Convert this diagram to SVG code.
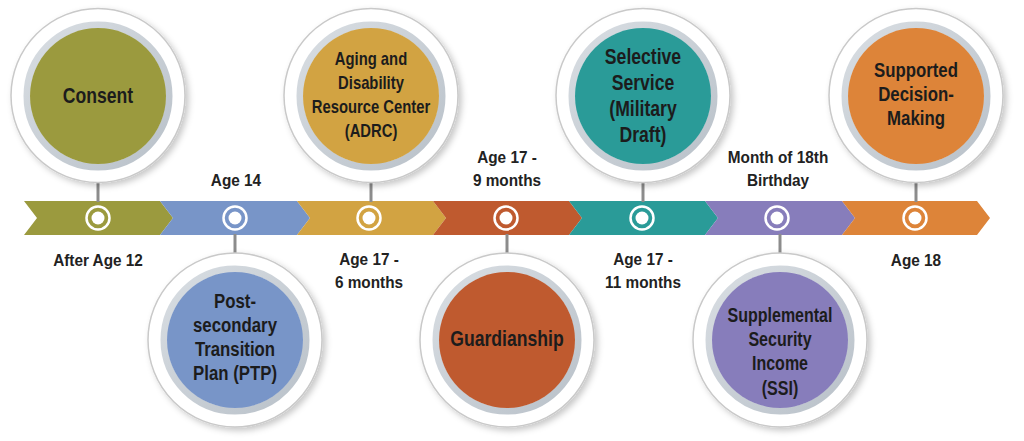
<svg xmlns="http://www.w3.org/2000/svg" width="1024" height="441" viewBox="0 0 1024 441">
<defs>
<filter id="sh" x="-20%" y="-20%" width="150%" height="150%">
<feDropShadow dx="3" dy="3" stdDeviation="3" flood-color="#000" flood-opacity="0.22"/>
</filter>
<linearGradient id="ringg" x1="0" y1="0" x2="1" y2="1">
<stop offset="0" stop-color="#d9dee3"/>
<stop offset="1" stop-color="#b9c1c9"/>
</linearGradient>
<style>
.outer{fill:#fff;stroke:#c9c9c9;stroke-width:1.5}
.ring{fill:none;stroke:url(#ringg);stroke-width:7}
.t{font-family:"Liberation Sans",Arial,sans-serif;font-weight:bold;fill:#1c1c1c;text-anchor:middle}
.lbl{font-family:"Liberation Sans",Arial,sans-serif;font-weight:bold;font-size:16.5px;fill:#222;text-anchor:middle}
.conn{stroke:#8c8c8c;stroke-width:3}
.mk{fill:none;stroke:#fff;stroke-width:2.5}
.dot{fill:#fff}
</style>
</defs>
<rect width="1024" height="441" fill="#fff"/>

<g id="band">
<polygon points="24,201 160,201 173,218 160,235 24,235 37,218" fill="#9b9a3e"/>
<polygon points="160,201 297,201 310,218 297,235 160,235 173,218" fill="#7895c8"/>
<polygon points="297,201 433,201 446,218 433,235 297,235 310,218" fill="#d2a342"/>
<polygon points="433,201 569,201 582,218 569,235 433,235 446,218" fill="#bf5a2f"/>
<polygon points="569,201 705,201 718,218 705,235 569,235 582,218" fill="#2a9b98"/>
<polygon points="705,201 842,201 855,218 842,235 705,235 718,218" fill="#877dbb"/>
<polygon points="842,201 977,201 990,218 977,235 842,235 855,218" fill="#dd8439"/>
</g>

<g id="connectors">
<line class="conn" x1="98" y1="182" x2="98" y2="202"/>
<line class="conn" x1="235" y1="234" x2="235" y2="254"/>
<line class="conn" x1="371" y1="182" x2="371" y2="202"/>
<line class="conn" x1="507" y1="234" x2="507" y2="254"/>
<line class="conn" x1="643" y1="182" x2="643" y2="202"/>
<line class="conn" x1="780" y1="234" x2="780" y2="254"/>
<line class="conn" x1="916" y1="182" x2="916" y2="202"/>
</g>

<g id="markers">
<circle class="mk" cx="98" cy="218" r="11.5"/><circle class="dot" cx="98" cy="218" r="6.5"/>
<circle class="mk" cx="235" cy="218" r="11.5"/><circle class="dot" cx="235" cy="218" r="6.5"/>
<circle class="mk" cx="369" cy="218" r="11.5"/><circle class="dot" cx="369" cy="218" r="6.5"/>
<circle class="mk" cx="506" cy="218" r="11.5"/><circle class="dot" cx="506" cy="218" r="6.5"/>
<circle class="mk" cx="642" cy="218" r="11.5"/><circle class="dot" cx="642" cy="218" r="6.5"/>
<circle class="mk" cx="777" cy="218" r="11.5"/><circle class="dot" cx="777" cy="218" r="6.5"/>
<circle class="mk" cx="915" cy="218" r="11.5"/><circle class="dot" cx="915" cy="218" r="6.5"/>
</g>

<g id="node-consent">
<circle class="outer" cx="98" cy="95.5" r="87" filter="url(#sh)"/>
<circle class="ring" cx="98" cy="96" r="71"/>
<circle cx="98" cy="96" r="68" fill="#9b9a3e"/>
<text class="t" font-size="22" transform="translate(98 0) scale(0.8 1)"><tspan x="0" y="103.5">Consent</tspan></text>
</g>

<g id="node-ptp">
<circle class="outer" cx="235" cy="340" r="87" filter="url(#sh)"/>
<circle class="ring" cx="235" cy="340" r="71"/>
<circle cx="235" cy="340" r="68" fill="#7895c8"/>
<text class="t" font-size="21" transform="translate(235 0) scale(0.8 1)"><tspan x="0" y="308">Post-</tspan><tspan x="0" y="332">secondary</tspan><tspan x="0" y="356">Transition</tspan><tspan x="0" y="380">Plan (PTP)</tspan></text>
</g>

<g id="node-adrc">
<circle class="outer" cx="371" cy="95.5" r="87" filter="url(#sh)"/>
<circle class="ring" cx="371" cy="96" r="71"/>
<circle cx="371" cy="96" r="68" fill="#d2a342"/>
<text class="t" font-size="18.5" transform="translate(371 0) scale(0.8 1)"><tspan x="0" y="65">Aging and</tspan><tspan x="0" y="89">Disability</tspan><tspan x="0" y="113">Resource Center</tspan><tspan x="0" y="137">(ADRC)</tspan></text>
</g>

<g id="node-guardianship">
<circle class="outer" cx="507" cy="340" r="87" filter="url(#sh)"/>
<circle class="ring" cx="507" cy="340" r="71"/>
<circle cx="507" cy="340" r="68" fill="#bf5a2f"/>
<text class="t" font-size="22" transform="translate(507 0) scale(0.8 1)"><tspan x="0" y="346">Guardianship</tspan></text>
</g>

<g id="node-selective">
<circle class="outer" cx="643" cy="95.5" r="87" filter="url(#sh)"/>
<circle class="ring" cx="643" cy="96" r="71"/>
<circle cx="643" cy="96" r="68" fill="#2a9b98"/>
<text class="t" font-size="22" transform="translate(643 0) scale(0.8 1)"><tspan x="0" y="64">Selective</tspan><tspan x="0" y="90">Service</tspan><tspan x="0" y="116">(Military</tspan><tspan x="0" y="142">Draft)</tspan></text>
</g>

<g id="node-ssi">
<circle class="outer" cx="780" cy="340" r="87" filter="url(#sh)"/>
<circle class="ring" cx="780" cy="340" r="71"/>
<circle cx="780" cy="340" r="68" fill="#877dbb"/>
<text class="t" font-size="20" transform="translate(780 0) scale(0.8 1)"><tspan x="0" y="322">Supplemental</tspan><tspan x="0" y="346">Security</tspan><tspan x="0" y="370">Income</tspan><tspan x="0" y="395">(SSI)</tspan></text>
</g>

<g id="node-sdm">
<circle class="outer" cx="916" cy="95.5" r="87" filter="url(#sh)"/>
<circle class="ring" cx="916" cy="96" r="71"/>
<circle cx="916" cy="96" r="68" fill="#dd8439"/>
<text class="t" font-size="21" transform="translate(916 0) scale(0.8 1)"><tspan x="0" y="77">Supported</tspan><tspan x="0" y="101">Decision-</tspan><tspan x="0" y="125">Making</tspan></text>
</g>

<g id="labels">
<text class="lbl" transform="translate(98 0) scale(0.93 1)"><tspan x="0" y="266">After Age 12</tspan></text>
<text class="lbl" transform="translate(236 0) scale(0.93 1)"><tspan x="0" y="186">Age 14</tspan></text>
<text class="lbl" transform="translate(369 0) scale(0.93 1)"><tspan x="0" y="265">Age 17 -</tspan><tspan x="0" y="288">6 months</tspan></text>
<text class="lbl" transform="translate(507 0) scale(0.93 1)"><tspan x="0" y="163">Age 17 -</tspan><tspan x="0" y="186">9 months</tspan></text>
<text class="lbl" transform="translate(643 0) scale(0.93 1)"><tspan x="0" y="265">Age 17 -</tspan><tspan x="0" y="288">11 months</tspan></text>
<text class="lbl" transform="translate(778 0) scale(0.93 1)"><tspan x="0" y="163">Month of 18th</tspan><tspan x="0" y="186">Birthday</tspan></text>
<text class="lbl" transform="translate(916 0) scale(0.93 1)"><tspan x="0" y="266">Age 18</tspan></text>
</g>
</svg>
